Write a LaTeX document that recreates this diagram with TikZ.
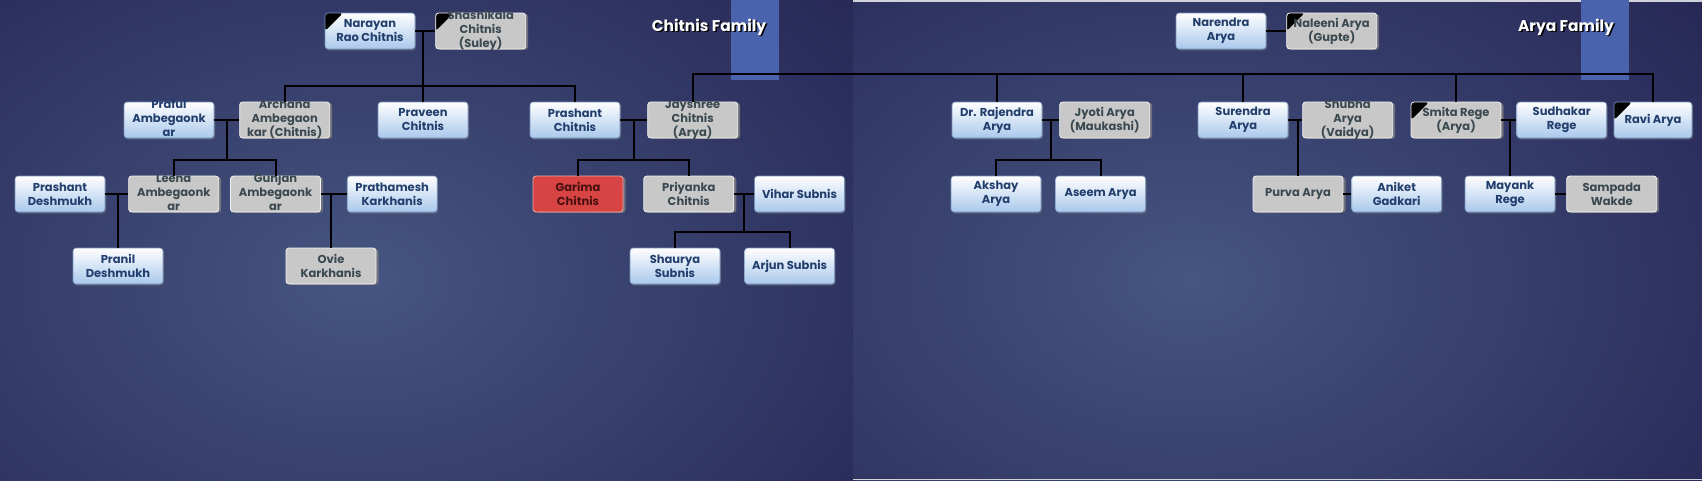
\documentclass[tikz,border=0pt]{standalone}
\usepackage{fontspec}
\setmainfont{Poppins}
\usepackage{tikz}
\usetikzlibrary{positioning,calc,shadows}

\definecolor{bgdark}{HTML}{1F1C4B}
\definecolor{bglight}{HTML}{465581}
\definecolor{boxblue}{HTML}{A9C8EC}
\definecolor{edgeblue}{HTML}{7392BA}
\definecolor{txtblue}{HTML}{223E6C}
\definecolor{boxgray}{HTML}{C8C8C8}
\definecolor{txtgray}{HTML}{3A4850}
\definecolor{boxred}{HTML}{D84343}
\definecolor{txtred}{HTML}{4A1010}
\definecolor{stripblue}{HTML}{4B63AC}

% three-line names run over the box edges
\newcommand{\tallname}[1]{\smash{\raisebox{-2.8pt}{\begin{tabular}{@{}c@{}}#1\end{tabular}}}}

\begin{document}
\begin{tikzpicture}[x=1pt, y=-1pt,
    person/.style={rectangle, rounded corners=3pt, minimum width=90pt, minimum height=36pt, inner sep=1pt, align=center, font=\fontsize{11.5}{14}\selectfont\bfseries},
    male/.style={person, top color=white, bottom color=boxblue, draw=edgeblue, line width=0.6pt, text=txtblue, drop shadow={shadow xshift=1pt, shadow yshift=-1.5pt, opacity=0.45}},
    female/.style={person, fill=boxgray, draw=white!80!boxgray, line width=0.8pt, text=txtgray, drop shadow={shadow xshift=2.5pt, shadow yshift=-0.8pt, opacity=0.75}},
    me/.style={person, fill=boxred, draw=white!55!boxred, line width=0.8pt, text=txtred, drop shadow={shadow xshift=2.5pt, shadow yshift=-0.8pt, opacity=0.75}},
    late/.style={path picture={\fill[black] (path picture bounding box.north west) -- ++(18pt,0pt) -- ++(-18pt,-18pt) -- cycle;}},
    link/.style={draw=black, line width=2pt},
    famtitle/.style={font=\fontsize{15.5}{18}\selectfont\bfseries, text=white},
    titleshade/.style={famtitle, text=black}
  ]
  \useasboundingbox (0,0) rectangle (1702,480);

  % two slides
  \fill[bgdark] (0,0) rectangle (1702,480);
  \begin{scope}
    \clip (0,0) rectangle (853,480);
    \shade[inner color=bglight, outer color=bgdark] (360,280) ellipse [x radius=820, y radius=560];
  \end{scope}
  \begin{scope}
    \clip (853,0) rectangle (1702,480);
    \shade[inner color=bglight, outer color=bgdark] (1190,280) ellipse [x radius=820, y radius=560];
  \end{scope}
  \fill[white!80!bgdark] (853,0) rectangle (1702,1.5);
  \fill[white!80!bgdark] (853,478.5) rectangle (1702,480);

  \fill[stripblue] (731,0) rectangle (779,80);
  \fill[stripblue] (1581,0) rectangle (1629,80);
  \node[titleshade] (chitnisshade) at (710.5,28.5) {Chitnis Family};
  \node[famtitle] (chitnistitle) at (709,27) {Chitnis Family};
  \node[titleshade] (aryashade) at (1567.5,28.5) {Arya Family};
  \node[famtitle] (aryatitle) at (1566,27) {Arya Family};

  % Chitnis family
  \node[male, late] (narayan) at (370,31) {Narayan\\Rao Chitnis};
  \node[female, late, right=20pt of narayan] (shashikala) {\tallname{Shashikala\\Chitnis\\(Suley)}};
  \node[male] (praful) at (169,120) {\tallname{Praful\\Ambegaonk\\ar}};
  \node[female, right=25pt of praful] (archana) {\tallname{Archana\\Ambegaon\\kar (Chitnis)}};
  \node[male] (praveen) at (423,120) {Praveen\\Chitnis};
  \node[male] (prashant) at (575,120) {Prashant\\Chitnis};
  \node[female, right=27pt of prashant] (jayshree) {\tallname{Jayshree\\Chitnis\\(Arya)}};
  \node[male] (deshmukh) at (60,194) {Prashant\\Deshmukh};
  \node[female, right=23pt of deshmukh] (leena) {\tallname{Leena\\Ambegaonk\\ar}};
  \node[female, right=11pt of leena] (gunjan) {\tallname{Gunjan\\Ambegaonk\\ar}};
  \node[male, right=26pt of gunjan] (prathamesh) {Prathamesh\\Karkhanis};
  \node[male] (pranil) at (118,266) {Pranil\\Deshmukh};
  \node[female] (ovie) at (331,266) {Ovie\\Karkhanis};
  \node[me] (garima) at (578,194) {Garima\\Chitnis};
  \node[female, right=20pt of garima] (priyanka) {Priyanka\\Chitnis};
  \node[male, right=20pt of priyanka] (vihar) {Vihar Subnis};
  \node[male] (shaurya) at (675,266) {Shaurya\\Subnis};
  \node[male, right=24pt of shaurya] (arjun) {Arjun Subnis};

  % Arya family
  \node[male] (narendra) at (1221,31) {Narendra\\Arya};
  \node[female, late, right=20pt of narendra] (naleeni) {Naleeni Arya\\(Gupte)};
  \node[male] (rajendra) at (997,120) {Dr. Rajendra\\Arya};
  \node[female, right=17pt of rajendra] (jyoti) {Jyoti Arya\\(Maukashi)};
  \node[male] (surendra) at (1243,120) {Surendra\\Arya};
  \node[female, right=14pt of surendra] (shubha) {\tallname{Shubha\\Arya\\(Vaidya)}};
  \node[female, late] (smita) at (1456,120) {Smita Rege\\(Arya)};
  \node[male, right=15pt of smita] (sudhakar) {Sudhakar\\Rege};
  \node[male, late, minimum width=78pt] (ravi) at (1653,120) {Ravi Arya};
  \node[male] (akshay) at (996,194) {Akshay\\Arya};
  \node[male, right=14pt of akshay] (aseem) {Aseem Arya};
  \node[female] (purva) at (1298,194) {Purva Arya};
  \node[male, right=8pt of purva] (aniket) {Aniket\\Gadkari};
  \node[male] (mayank) at (1510,194) {Mayank\\Rege};
  \node[female, right=11pt of mayank] (sampada) {Sampada\\Wakde};

  % Chitnis links
  \draw[link] (narayan) -- (shashikala);
  \draw[link] (praveen.north) |- (narayan.east);
  \draw[link] (archana.north) -- ++(0,-16) -| (prashant.north);
  \draw[link] (praful) -- (archana);
  \draw[link] ($(praful.east)!0.5!(archana.west)$) -- ++(0,40);
  \draw[link] (leena.north) -- ++(0,-16) -| (gunjan.north);
  \draw[link] (deshmukh) -- (leena);
  \draw[link] (pranil.north) |- (deshmukh.east);
  \draw[link] (gunjan) -- (prathamesh);
  \draw[link] (ovie.north) |- (gunjan.east);
  \draw[link] (prashant) -- (jayshree);
  \draw[link] ($(prashant.east)!0.5!(jayshree.west)$) -- ++(0,40);
  \draw[link] (garima.north) -- ++(0,-16) -| (priyanka.north);
  \draw[link] (priyanka) -- (vihar);
  \draw[link] ($(priyanka.east)!0.5!(vihar.west)$) -- ++(0,38);
  \draw[link] (shaurya.north) -- ++(0,-16) -| (arjun.north);

  % Jayshree joins the Arya children
  \coordinate (aryabar) at ($(jayshree.north)+(0,-28)$);
  \draw[link] (jayshree.north) -- (aryabar) -| (ravi.north);
  \draw[link] (rajendra.north) -- (rajendra.north |- aryabar);
  \draw[link] (surendra.north) -- (surendra.north |- aryabar);
  \draw[link] (smita.north) -- (smita.north |- aryabar);

  % Arya links
  \draw[link] (narendra) -- (naleeni);
  \draw[link] (rajendra) -- (jyoti);
  \draw[link] ($(rajendra.east)!0.5!(jyoti.west)$) -- ++(0,40);
  \draw[link] (akshay.north) -- ++(0,-16) -| (aseem.north);
  \draw[link] (surendra) -- (shubha);
  \draw[link] (purva.north) |- (surendra.east);
  \draw[link] (purva) -- (aniket);
  \draw[link] (smita) -- (sudhakar);
  \draw[link] (mayank.north) |- (smita.east);
  \draw[link] (mayank) -- (sampada);
\end{tikzpicture}
\end{document}
